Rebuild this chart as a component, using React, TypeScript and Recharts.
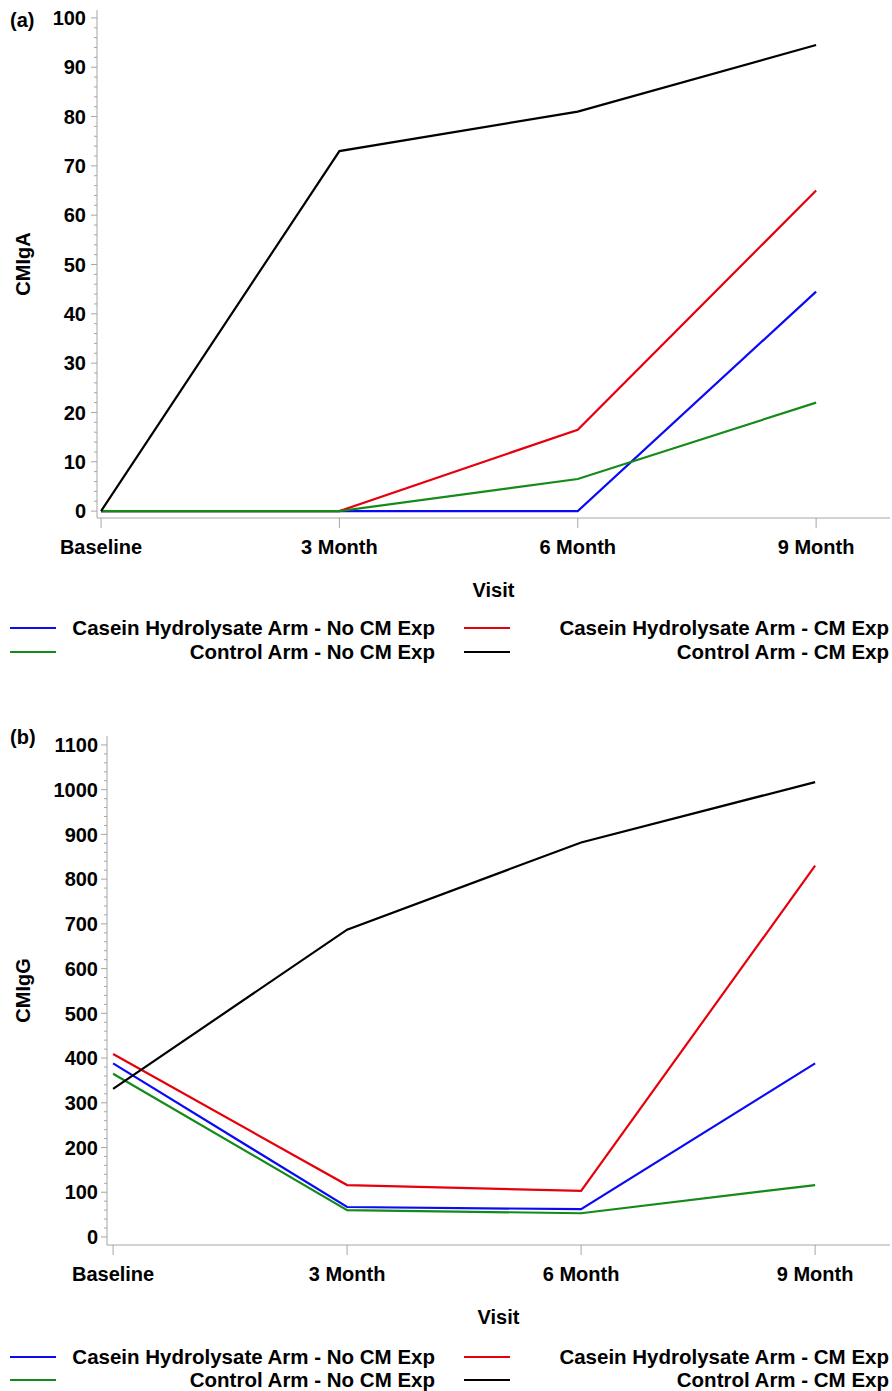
import { LineChart, Line, XAxis, YAxis, Label } from 'recharts';

const visits = ['Baseline', '3 Month', '6 Month', '9 Month'];

const seriesNames = [
  'Casein Hydrolysate Arm - No CM Exp',
  'Casein Hydrolysate Arm - CM Exp',
  'Control Arm - No CM Exp',
  'Control Arm - CM Exp',
];
const seriesColors = ['#0a0af5', '#e6000c', '#148a18', '#000000'];

// panel (a) CMIgA
const igaCaseinNoExp = [0, 0, 0, 44.5];
const igaCaseinExp = [0, 0, 16.5, 65];
const igaControlNoExp = [0, 0, 6.5, 22];
const igaControlExp = [0, 73, 81, 94.5];

// panel (b) CMIgG
const iggCaseinNoExp = [388, 67, 62, 388];
const iggCaseinExp = [409, 116, 103, 830];
const iggControlNoExp = [365, 60, 53, 116];
const iggControlExp = [331, 687, 882, 1017];

const igaMajorTicks = [0, 10, 20, 30, 40, 50, 60, 70, 80, 90, 100];
const iggMajorTicks = [0, 100, 200, 300, 400, 500, 600, 700, 800, 900, 1000, 1100];

const FONT = '"Liberation Sans", Arial, sans-serif';
const AXIS_GREY = '#a6a6a6';

function buildRows(series: number[][]) {
  return visits.map((v, i) => {
    const row: Record<string, number | string> = { x: i, visit: v };
    series.forEach((s, k) => {
      row['s' + k] = s[i];
    });
    return row;
  });
}

function withMinor(major: number[], parts: number) {
  const out: number[] = [];
  for (let i = 0; i < major.length - 1; i++) {
    const step = (major[i + 1] - major[i]) / parts;
    for (let j = 0; j < parts; j++) out.push(major[i] + step * j);
  }
  out.push(major[major.length - 1]);
  return out;
}

interface PanelProps {
  tag: string;
  yLabel: string;
  series: number[][];
  majorTicks: number[];
  yDomain: [number, number];
  xDomain: [number, number];
  top: number;
  height: number;
  marginTop: number;
  yAxisWidth: number;
  tickGap: number;
  tagY: number;
  legendY: [number, number];
}

function Panel(p: PanelProps) {
  const rows = buildRows(p.series);
  const ticks = withMinor(p.majorTicks, 5);

  const yTick = (props: any) => {
    const { x, y, payload } = props;
    const isMajor = p.majorTicks.includes(Math.round(payload.value * 1000) / 1000);
    const axisX = x + p.tickGap;
    return (
      <g>
        <line x1={axisX - (isMajor ? 6 : 3)} x2={axisX} y1={y} y2={y} stroke={AXIS_GREY} />
        {isMajor && (
          <text x={x} y={y} dy="0.36em" textAnchor="end" fontSize={20} fontWeight="bold" fontFamily={FONT} fill="#000">
            {Math.round(payload.value)}
          </text>
        )}
      </g>
    );
  };

  const xTick = (props: any) => {
    const { x, y, payload } = props;
    return (
      <text x={x} y={y + 19} dy="0.36em" textAnchor="middle" fontSize={20} fontWeight="bold" fontFamily={FONT} fill="#000">
        {visits[payload.value]}
      </text>
    );
  };

  const legendCols = [
    { left: 10, right: 435 },
    { left: 464, right: 889 },
  ];

  return (
    <div style={{ position: 'absolute', left: 0, top: p.top, width: 892, height: p.height + 120 }}>
      <div style={{ position: 'absolute', left: 10, top: p.tagY - 12, fontFamily: FONT, fontWeight: 'bold', fontSize: 20, lineHeight: '24px' }}>
        {p.tag}
      </div>
      <LineChart width={892} height={p.height + 90} data={rows} margin={{ top: p.marginTop, right: 2, bottom: 0, left: 0 }}>
        <XAxis
          dataKey="x"
          type="number"
          domain={p.xDomain}
          ticks={[0, 1, 2, 3]}
          interval={0}
          height={90}
          axisLine={{ stroke: AXIS_GREY }}
          tickLine={{ stroke: AXIS_GREY }}
          tickSize={10}
          tickMargin={0}
          tick={xTick}
          allowDataOverflow
        >
          <Label
            content={(lp: any) => {
              const vb = lp.viewBox;
              return (
                <text x={vb.x + vb.width / 2} y={vb.y + 72} dy="0.36em" textAnchor="middle" fontSize={20} fontWeight="bold" fontFamily={FONT} fill="#000">
                  Visit
                </text>
              );
            }}
          />
        </XAxis>
        <XAxis xAxisId="frameTop" orientation="top" dataKey="x" type="number" domain={p.xDomain} height={0} tick={false} tickLine={false} axisLine={{ stroke: AXIS_GREY }} allowDataOverflow />
        <YAxis
          type="number"
          domain={p.yDomain}
          ticks={ticks}
          interval={0}
          width={p.yAxisWidth}
          axisLine={{ stroke: AXIS_GREY }}
          tickLine={false}
          tickSize={0}
          tickMargin={p.tickGap}
          tick={yTick}
          allowDataOverflow
        >
          <Label
            content={(lp: any) => {
              const vb = lp.viewBox;
              const cx = 23;
              const cy = vb.y + vb.height / 2;
              return (
                <text x={cx} y={cy} dy="0.36em" transform={`rotate(-90 ${cx} ${cy})`} textAnchor="middle" fontSize={20} fontWeight="bold" fontFamily={FONT} fill="#000">
                  {p.yLabel}
                </text>
              );
            }}
          />
        </YAxis>
        <YAxis yAxisId="frameRight" orientation="right" type="number" domain={p.yDomain} width={0} tick={false} tickLine={false} axisLine={{ stroke: AXIS_GREY }} allowDataOverflow />
        {seriesNames.map((name, k) => (
          <Line
            key={name}
            type="linear"
            dataKey={'s' + k}
            name={name}
            stroke={seriesColors[k]}
            strokeWidth={2.2}
            dot={false}
            activeDot={false}
            isAnimationActive={false}
          />
        ))}
      </LineChart>
      {seriesNames.map((name, k) => {
        const col = legendCols[k % 2];
        const rowY = p.legendY[Math.floor(k / 2)];
        return (
          <div
            key={name}
            style={{
              position: 'absolute',
              left: col.left,
              top: rowY - 12,
              width: col.right - col.left,
              height: 24,
              display: 'flex',
              alignItems: 'center',
              justifyContent: 'space-between',
              fontFamily: FONT,
              fontWeight: 'bold',
              fontSize: 20.5,
              whiteSpace: 'nowrap',
            }}
          >
            <span style={{ display: 'inline-block', width: 46, height: 2, background: seriesColors[k] }} />
            <span>{name}</span>
          </div>
        );
      })}
    </div>
  );
}

export default function App() {
  return (
    <div style={{ position: 'absolute', left: 0, top: 0, width: 892, height: 1391, background: '#fff' }}>
      <Panel
        tag="(a)"
        yLabel="CMIgA"
        series={[igaCaseinNoExp, igaCaseinExp, igaControlNoExp, igaControlExp]}
        majorTicks={igaMajorTicks}
        yDomain={[-1.4, 101.6]}
        xDomain={[-0.017, 3.31]}
        top={0}
        height={518}
        marginTop={10}
        yAxisWidth={97}
        tickGap={11}
        tagY={20}
        legendY={[628, 652]}
      />
      <Panel
        tag="(b)"
        yLabel="CMIgG"
        series={[iggCaseinNoExp, iggCaseinExp, iggControlNoExp, iggControlExp]}
        majorTicks={iggMajorTicks}
        yDomain={[-18, 1120]}
        xDomain={[-0.026, 3.32]}
        top={700}
        height={545}
        marginTop={36}
        yAxisWidth={107}
        tickGap={9}
        tagY={37}
        legendY={[657, 680]}
      />
    </div>
  );
}
